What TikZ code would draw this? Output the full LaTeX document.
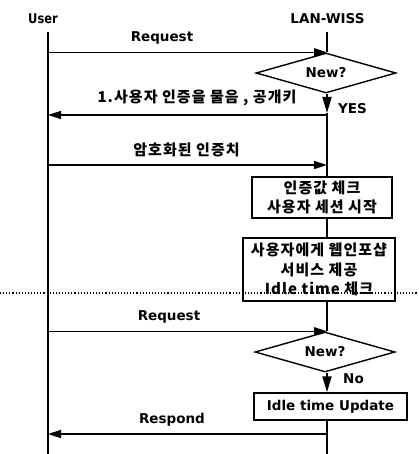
\documentclass[tikz,border=0pt]{standalone}
\usepackage{fontspec}
\usepackage{graphicx}
\setmainfont{DejaVu Sans}
\newfontfamily\kr[LetterSpace=7]{Noto Sans CJK KR}
\usetikzlibrary{arrows.meta,shapes.geometric}
\tikzset{
  life/.style={line width=1.8pt},
  msg/.style={line width=1.5pt,-{Triangle[length=13pt,width=8pt]}},
  downtip/.style={line width=1.8pt,-{Triangle[length=16pt,width=9pt]}},
  lbl/.style={font=\bfseries\fontsize{13.5}{16}\selectfont,anchor=base,inner sep=0pt},
  klbl/.style={font=\kr\bfseries\fontsize{15}{19.5}\selectfont,anchor=base,inner sep=0pt},
  dec/.style={diamond,draw,line width=1.4pt,aspect=3.5,minimum width=140pt,minimum height=40pt,inner sep=0pt,font=\bfseries\fontsize{13.5}{16}\selectfont},
  procbox/.style={draw,line width=1.5pt,inner sep=0pt,align=center,font=\kr\bfseries\fontsize{15}{19.5}\selectfont},
  sepline/.style={line width=1.1pt,dash pattern=on 1.1pt off 2pt}
}
\begin{document}
\begin{tikzpicture}[x=1pt,y=-1pt]
\useasboundingbox (0,0) rectangle (418,454);
% headers
\node[lbl] (userlbl) at (43,24) {\scalebox{0.85}[1]{User}};
\node[lbl] (lanlbl) at (327.5,24) {LAN-WISS};
% lifeline anchors
\coordinate (uTop) at (48,32);
\coordinate (uBot) at (48,454);
\coordinate (lTop) at (327,32);
\coordinate (lBot) at (327,454);
\draw[life] (uTop) -- (uBot);
% decision and process nodes
\node[dec] (d1) at (326,73) {New?};
\node[dec] (d2) at (325,352) {New?};
\node[procbox,minimum width=140pt,minimum height=41pt] (b1) at (322,197.5) {인증값 체크\\사용자 세션 시작};
\node[procbox,minimum width=152pt,minimum height=63pt] (b2) at (319,269.5) {사용자에게 웹인포샵\\서비스 제공\\Idle time 체크};
\node[procbox,font=\bfseries\fontsize{13.5}{16}\selectfont,minimum width=153pt,minimum height=27pt] (b3) at (330.5,406.5) {Idle time Update};
% LAN-WISS lifeline segments
\coordinate (yes) at (327,113);
\draw[life] (lTop) -- (lTop |- d1.north);
\draw[downtip] (lTop |- d1.south) -- (yes);
\draw[life] (yes) -- (lTop |- b1.north);
\draw[life] (lTop |- b1.south) -- (lTop |- b2.north);
\draw[life] (lTop |- b2.south) -- (lTop |- d2.north);
\draw[downtip] (lTop |- d2.south) -- (lTop |- b3.north);
\draw[life] (lTop |- b3.south) -- (lBot);
% messages
\coordinate (r1) at (327,115);
\coordinate (m2) at (327,165);
\coordinate (r2) at (327,434);
\draw[msg] (uTop |- d1.north) -- (lTop |- d1.north);
\draw[msg] (r1) -- (uTop |- r1);
\draw[msg] (uTop |- m2) -- (m2);
\draw[msg] (uTop |- d2.north) -- (lTop |- d2.north);
\draw[msg] (r2) -- (uTop |- r2);
% labels
\node[lbl] (req1) at (162,42) {Request};
\node[klbl] (ask) at (197,103) {1.사용자 인증을 물음 , 공개키};
\node[klbl] (enc) at (186.5,156) {암호화된 인증치};
\node[lbl] (req2) at (169,320) {Request};
\node[lbl] (resp) at (172,423) {Respond};
\node[lbl,anchor=base west] (yeslbl) at (338,114) {YES};
\node[lbl,anchor=base west] (nolbl) at (343,383) {No};
% separator
\coordinate (sl) at (0,293);
\coordinate (sr) at (418,293);
\draw[sepline] (sl) -- (sr);
\end{tikzpicture}
\end{document}
